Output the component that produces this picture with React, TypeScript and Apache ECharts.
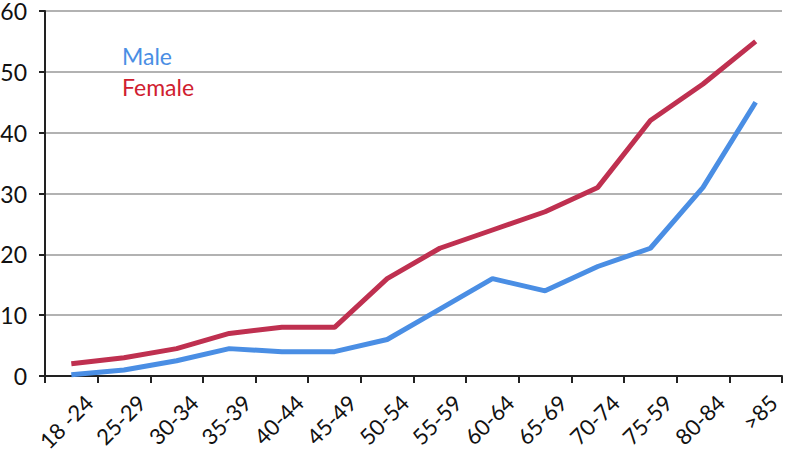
import React, { useEffect, useRef } from "react";
import * as echarts from "echarts";

const categories = ["18 -24", "25-29", "30-34", "35-39", "40-44", "45-49", "50-54", "55-59", "60-64", "65-69", "70-74", "75-59", "80-84", ">85"];
const maleValues = [0.2, 1, 2.5, 4.5, 4, 4, 6, 11, 16, 14, 18, 21, 31, 45];
const femaleValues = [2, 3, 4.5, 7, 8, 8, 16, 21, 24, 27, 31, 42, 48, 55];
const yTicks = { min: 0, max: 60, interval: 10 };

const MALE_COLOR = "#4A8EE4";
const FEMALE_COLOR = "#BF3050";

export default function App() {
  const ref = useRef<HTMLDivElement>(null);
  useEffect(() => {
    if (!ref.current) return;
    const chart = echarts.init(ref.current, undefined, { renderer: "svg" });
    chart.setOption({
      animation: false,
      grid: { left: 45, right: 4, top: 11, bottom: 79, containLabel: false, outerBoundsMode: "none" },
      legend: {
        orient: "vertical",
        left: 117,
        top: 44,
        icon: "none",
        itemGap: 7,
        itemWidth: 0,
        padding: 0,
        textStyle: { fontFamily: "Lato", fontSize: 23, lineHeight: 24 },
        data: [
          { name: "Male", textStyle: { color: "#4A8EE4" } },
          { name: "Female", textStyle: { color: "#D0202F" } },
        ],
        selectedMode: false,
      },
      xAxis: {
        type: "category",
        data: categories,
        boundaryGap: true,
        axisLine: { lineStyle: { color: "#222", width: 2 } },
        axisTick: { show: true, length: 7, inside: false, lineStyle: { color: "#222", width: 2 } },
        axisLabel: {
          rotate: 45,
          interval: 0,
          margin: 5,
          align: "right",
          verticalAlign: "top",
          padding: [14, 0, 0, 0],
          color: "#111",
          fontFamily: "Lato",
          fontSize: 22,
        },
        splitLine: { show: false },
      },
      yAxis: {
        type: "value",
        min: yTicks.min,
        max: yTicks.max,
        interval: yTicks.interval,
        axisLine: { show: true, lineStyle: { color: "#222", width: 2 } },
        axisTick: { show: true, length: 6, lineStyle: { color: "#222", width: 2 } },
        axisLabel: { color: "#111", fontFamily: "Lato", fontSize: 23, margin: 18 },
        splitLine: { show: true, lineStyle: { color: "#999", width: 1.5 } },
      },
      series: [
        {
          name: "Male",
          type: "line",
          data: maleValues,
          symbol: "none",
          lineStyle: { color: MALE_COLOR, width: 5 },
          itemStyle: { color: MALE_COLOR },
          z: 3,
        },
        {
          name: "Female",
          type: "line",
          data: femaleValues,
          symbol: "none",
          lineStyle: { color: FEMALE_COLOR, width: 5 },
          itemStyle: { color: FEMALE_COLOR },
          z: 2,
        },
      ],
    });
    return () => chart.dispose();
  }, []);
  return <div ref={ref} style={{ width: 786, height: 455, position: "absolute", left: 0, top: 0 }} />;
}
